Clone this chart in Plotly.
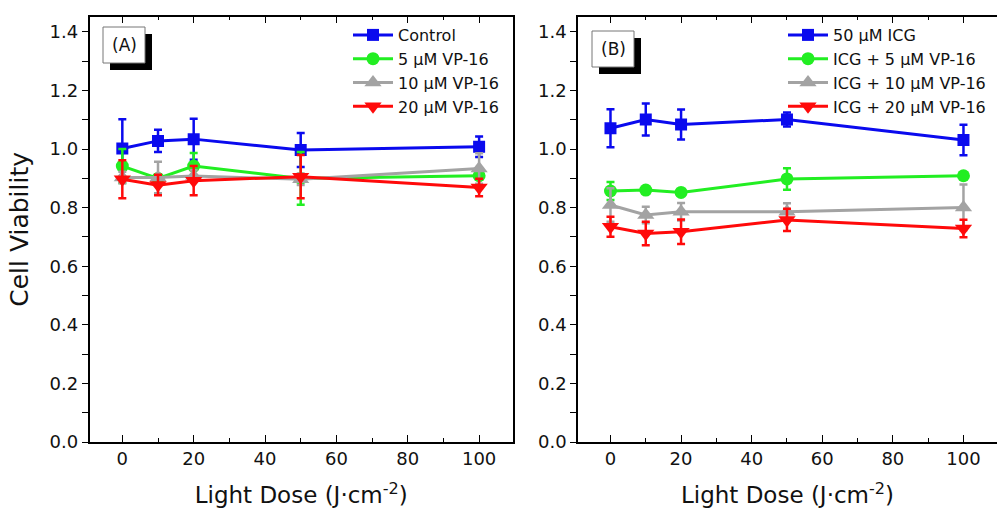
import plotly.graph_objects as go

# Light dose levels (J/cm^2)
dose = [0, 10, 20, 50, 100]

# Panel A: VP-16 alone
ctrl = [1.002, 1.028, 1.034, 0.997, 1.008]
ctrl_err = [0.10, 0.038, 0.07, 0.058, 0.035]
vp5 = [0.942, 0.900, 0.942, 0.900, 0.909]
vp5_err = [0.058, 0.01, 0.045, 0.09, 0.012]
vp10 = [0.903, 0.903, 0.908, 0.897, 0.934]
vp10_err = [0.02, 0.054, 0.02, 0.02, 0.052]
vp20 = [0.897, 0.877, 0.892, 0.906, 0.869]
vp20_err = [0.065, 0.035, 0.05, 0.074, 0.03]

# Panel B: ICG combined with VP-16
icg = [1.071, 1.101, 1.084, 1.101, 1.031]
icg_err = [0.065, 0.055, 0.051, 0.024, 0.052]
icg_vp5 = [0.857, 0.860, 0.852, 0.898, 0.909]
icg_vp5_err = [0.031, 0.008, 0.01, 0.037, 0.01]
icg_vp10 = [0.809, 0.775, 0.786, 0.786, 0.801]
icg_vp10_err = [0.057, 0.028, 0.03, 0.029, 0.078]
icg_vp20 = [0.735, 0.712, 0.718, 0.758, 0.729]
icg_vp20_err = [0.034, 0.04, 0.042, 0.038, 0.03]

names_a = ["Control", "5 μM VP-16", "10 μM VP-16", "20 μM VP-16"]
names_b = ["50 μM ICG", "ICG + 5 μM VP-16", "ICG + 10 μM VP-16", "ICG + 20 μM VP-16"]

colors = ["#0a0aee", "#22ee22", "#a3a3a3", "#ff0a0a"]
symbols = ["square", "circle", "triangle-up", "triangle-down"]
sizes = [12, 13, 15, 15]

FONT = "DejaVu Sans"
W, H = 997, 511

fig = go.Figure()

series_a = [(ctrl, ctrl_err), (vp5, vp5_err), (vp10, vp10_err), (vp20, vp20_err)]
series_b = [(icg, icg_err), (icg_vp5, icg_vp5_err), (icg_vp10, icg_vp10_err), (icg_vp20, icg_vp20_err)]

for i, ((y, e), name) in enumerate(zip(series_a, names_a)):
    fig.add_trace(go.Scatter(
        x=dose, y=y, name=name, mode="lines+markers",
        line=dict(color=colors[i], width=3),
        marker=dict(symbol=symbols[i], size=sizes[i], color=colors[i]),
        error_y=dict(type="data", array=e, color=colors[i], thickness=2.5, width=4),
        xaxis="x", yaxis="y", legend="legend",
    ))

for i, ((y, e), name) in enumerate(zip(series_b, names_b)):
    fig.add_trace(go.Scatter(
        x=dose, y=y, name=name, mode="lines+markers",
        line=dict(color=colors[i], width=3),
        marker=dict(symbol=symbols[i], size=sizes[i], color=colors[i]),
        error_y=dict(type="data", array=e, color=colors[i], thickness=2.5, width=4),
        xaxis="x2", yaxis="y2", legend="legend2",
    ))


def px_x(p):
    return p / W


def px_y(p):
    return 1 - p / H


xdom_a = [px_x(89.5), px_x(513)]
xdom_b = [px_x(578), 1.0]
ydom = [px_y(442), px_y(16.7)]

xcommon = dict(
    range=[-9.2, 109.5], tickvals=[0, 20, 40, 60, 80, 100],
    ticks="inside", ticklen=7, tickwidth=1.2, tickcolor="black",
    minor=dict(dtick=10, ticks="inside", ticklen=4, tickwidth=1.2, tickcolor="black"),
    showline=True, linecolor="black", linewidth=1.5, mirror="ticks",
    showgrid=False, zeroline=False, automargin=False,
    tickfont=dict(family=FONT, size=18, color="#111"),
    title=dict(text="Light Dose (J·cm<sup>-2</sup>)",
               font=dict(family=FONT, size=23, color="#111"), standoff=19),
)
ycommon = dict(
    range=[0, 1.452], tickvals=[0, 0.2, 0.4, 0.6, 0.8, 1.0, 1.2, 1.4],
    ticktext=["0.0", "0.2", "0.4", "0.6", "0.8", "1.0", "1.2", "1.4"],
    ticks="outside", ticklen=6, tickwidth=1.2, tickcolor="black",
    minor=dict(dtick=0.1, ticks="outside", ticklen=6, tickwidth=1.2, tickcolor="black"),
    showline=True, linecolor="black", linewidth=1.5,
    showgrid=False, zeroline=False, automargin=False,
    tickfont=dict(family=FONT, size=18, color="#111"),
)

legend_style = dict(xanchor="left", yanchor="top", bgcolor="rgba(0,0,0,0)",
                    font=dict(family=FONT, size=16, color="#111"),
                    itemwidth=40, tracegroupgap=0)

fig.update_layout(
    width=W, height=H,
    margin=dict(l=0, r=0, t=0, b=0),
    paper_bgcolor="white", plot_bgcolor="white",
    xaxis=dict(domain=xdom_a, anchor="y", **xcommon),
    yaxis=dict(domain=ydom, anchor="x", mirror=True,
               title=dict(text="Cell Viability", font=dict(family=FONT, size=25, color="#111"), standoff=14),
               **ycommon),
    xaxis2=dict(domain=xdom_b, anchor="y2", **xcommon),
    yaxis2=dict(domain=ydom, anchor="x2", mirror=False, **ycommon),
    legend=dict(x=px_x(348), y=px_y(18), **legend_style),
    legend2=dict(x=px_x(783), y=px_y(18), **legend_style),
    showlegend=True,
)

# Panel labels with drop-shadow boxes
for label, x0, y0 in [("(A)", 103, 27), ("(B)", 592, 31)]:
    w, h, off = 42, 36, 7
    fig.add_shape(type="rect", xref="paper", yref="paper",
                  x0=px_x(x0 + off), x1=px_x(x0 + w + off),
                  y0=px_y(y0 + off), y1=px_y(y0 + h + off),
                  fillcolor="black", line=dict(width=0))
    fig.add_shape(type="rect", xref="paper", yref="paper",
                  x0=px_x(x0), x1=px_x(x0 + w), y0=px_y(y0), y1=px_y(y0 + h),
                  fillcolor="white", line=dict(color="#777", width=1))
    fig.add_annotation(text=label, xref="paper", yref="paper",
                       x=px_x(x0 + w / 2), y=px_y(y0 + h / 2),
                       showarrow=False, xanchor="center", yanchor="middle",
                       font=dict(family=FONT, size=17, color="#111"))

fig.write_html("out.html")
